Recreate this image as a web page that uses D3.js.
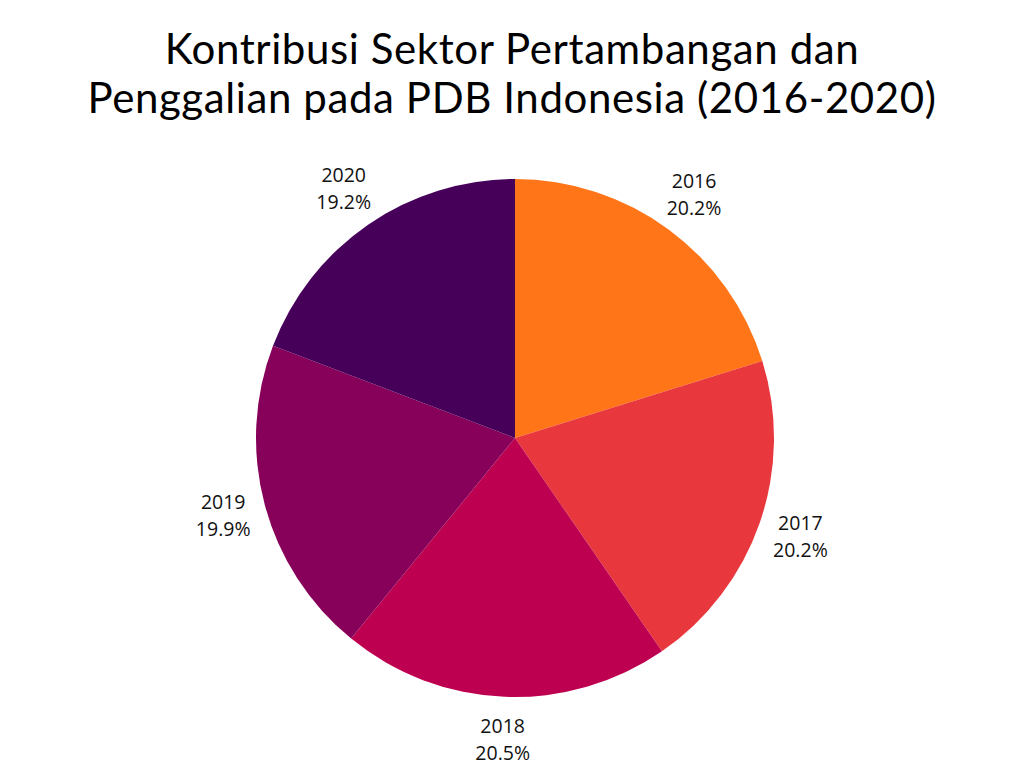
<!DOCTYPE html>
<html>
<head>
<meta charset="utf-8">
<script src="https://cdn.jsdelivr.net/npm/d3@7"></script>
<style>
  body { margin: 0; background: #fff; }
  svg { display: block; }
</style>
</head>
<body>
<div class="canvas"></div>
<script>
const years = ["2016", "2017", "2018", "2019", "2020"];
const shares = [20.2, 20.2, 20.5, 19.9, 19.2];
const colors = ["#FF7518", "#E8383D", "#BE0050", "#87005A", "#47005A"];
const titleLines = [
  "Kontribusi Sektor Pertambangan dan",
  "Penggalian pada PDB Indonesia (2016-2020)"
];

const width = 1024;
const height = 768;
const cx = 515;
const cy = 438;
const radius = 259;

const svg = d3.select(".canvas").append("svg")
  .attr("width", width)
  .attr("height", height);

svg.append("g")
  .selectAll("text")
  .data(titleLines)
  .enter()
  .append("text")
  .attr("x", 512)
  .attr("y", (d, i) => 64 + i * 49)
  .attr("text-anchor", "middle")
  .attr("font-family", "Lato, 'Noto Sans', sans-serif")
  .attr("font-size", 42)
  .attr("letter-spacing", 0.6)
  .attr("fill", "#000")
  .text((d) => d);

const data = years.map((y, i) => ({ year: y, value: shares[i], color: colors[i] }));

const pie = d3.pie()
  .value((d) => d.value)
  .sort(null);

const arc = d3.arc().innerRadius(0).outerRadius(radius);
const labelArc = d3.arc().innerRadius(302).outerRadius(302);

const g = svg.append("g").attr("transform", `translate(${cx},${cy})`);

const arcs = pie(data);

g.selectAll("path")
  .data(arcs)
  .enter()
  .append("path")
  .attr("d", arc)
  .attr("fill", (d) => d.data.color);

const labels = g.selectAll(".label")
  .data(arcs)
  .enter()
  .append("text")
  .attr("class", "label")
  .attr("transform", (d) => `translate(${labelArc.centroid(d)})`)
  .attr("text-anchor", "middle")
  .attr("font-family", "'Open Sans', 'Noto Sans', sans-serif")
  .attr("font-size", 19.5)
  .attr("fill", "#111");

labels.append("tspan")
  .attr("x", 0)
  .attr("y", -7)
  .text((d) => d.data.year);

labels.append("tspan")
  .attr("x", 0)
  .attr("y", 20)
  .text((d) => d.data.value.toFixed(1) + "%");
</script>
</body>
</html>
